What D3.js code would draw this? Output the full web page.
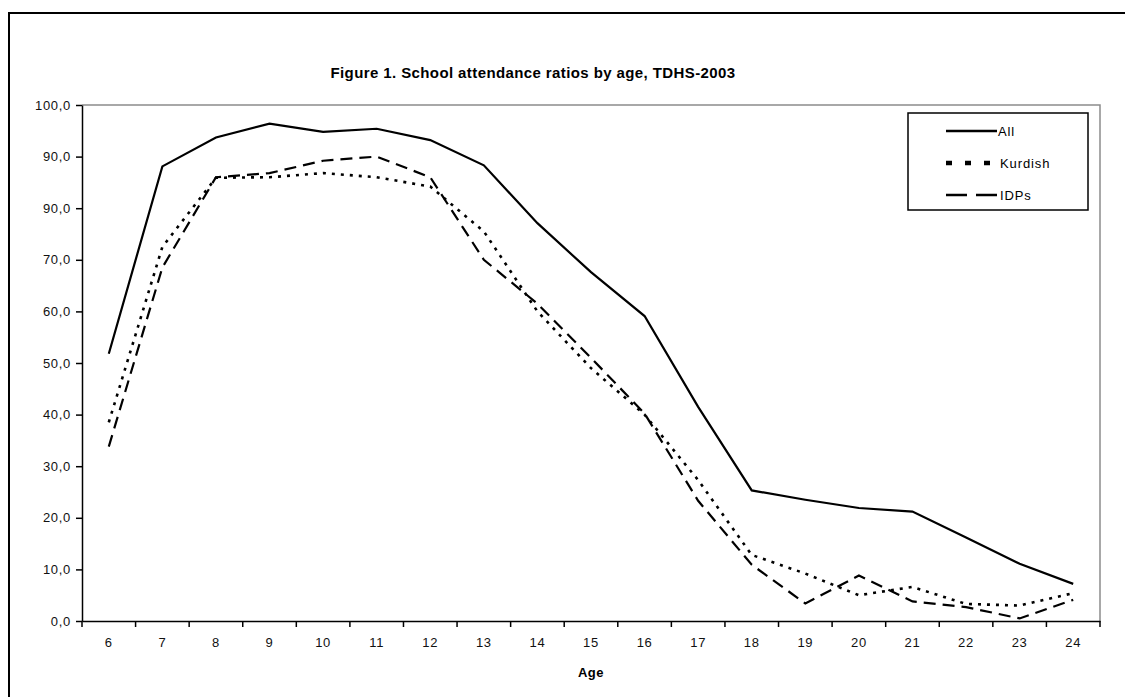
<!DOCTYPE html>
<html>
<head>
<meta charset="utf-8">
<script src="https://cdn.jsdelivr.net/npm/d3@7.9.0/dist/d3.min.js"></script>
<style>
  html, body { margin: 0; padding: 0; background: #fff; }
  svg { display: block; font-family: "Liberation Sans", Arial, sans-serif; }
</style>
</head>
<body>
<svg id="chart" width="1125" height="697"></svg>
<script>
const ages = [6, 7, 8, 9, 10, 11, 12, 13, 14, 15, 16, 17, 18, 19, 20, 21, 22, 23, 24];
const allValues = [51.8, 88.1, 93.7, 96.4, 94.8, 95.4, 93.2, 88.3, 77.1, 67.6, 59.1, 41.5, 25.3, 23.5, 21.9, 21.2, 16.2, 11.1, 7.2];
const kurdishValues = [38.5, 72.5, 85.9, 86.0, 86.8, 86.0, 84.2, 75.5, 60.0, 49.0, 40.0, 27.3, 12.8, 9.2, 5.0, 6.6, 3.3, 3.0, 5.4];
const idpValues = [33.8, 68.5, 86.0, 86.8, 89.2, 90.0, 86.0, 70.0, 61.5, 51.0, 40.2, 23.3, 10.9, 3.4, 8.8, 3.8, 2.7, 0.5, 4.1];
const yTicks = [0, 10, 20, 30, 40, 50, 60, 70, 80, 90, 100];
const yTickLabels = ["0,0", "10,0", "20,0", "30,0", "40,0", "50,0", "60,0", "70,0", "90,0", "90,0", "100,0"];
const seriesNames = ["All", "Kurdish", "IDPs"];

const series = [
  { name: seriesNames[0], values: allValues, dash: null, width: 2.2 },
  { name: seriesNames[1], values: kurdishValues, dash: "3,6", width: 2.6 },
  { name: seriesNames[2], values: idpValues, dash: "12,7", width: 2.2 }
];

const svg = d3.select('#chart');
const plot = { left: 82, right: 1100, top: 105, bottom: 621 };

// outer frame
svg.append('rect')
  .attr('x', 9).attr('y', 13)
  .attr('width', 1130).attr('height', 700)
  .attr('fill', 'none').attr('stroke', '#000').attr('stroke-width', 2);

const x = d3.scaleBand().domain(ages).range([plot.left, plot.right]).padding(0);
const y = d3.scaleLinear().domain([0, 100]).range([plot.bottom, plot.top]);
const cx = d => x(d) + x.bandwidth() / 2;

// plot area border (grey top and right)
svg.append('path')
  .attr('d', `M${plot.left},${plot.top}H${plot.right}V${plot.bottom}`)
  .attr('fill', 'none').attr('stroke', '#8c8c8c').attr('stroke-width', 1.5);

// title
svg.append('text')
  .attr('x', 533).attr('y', 78)
  .attr('text-anchor', 'middle')
  .style('font-size', '15px').style('font-weight', 'bold')
  .style('letter-spacing', '0.4px')
  .text('Figure 1. School attendance ratios by age, TDHS-2003');

// y axis
const yAxis = d3.axisLeft(y)
  .tickValues(yTicks)
  .tickFormat((d, i) => yTickLabels[i])
  .tickSize(6).tickSizeOuter(0).tickPadding(5);

const gy = svg.append('g')
  .attr('transform', `translate(${plot.left},0)`)
  .call(yAxis);
gy.selectAll('path, line').attr('stroke', '#000').attr('stroke-width', 1.5);
gy.selectAll('text').style('font-size', '13px').style('letter-spacing', '0.7px').attr('fill', '#111');

// x axis: labels centred in categories, ticks on category edges
const xAxis = d3.axisBottom(x).tickSize(0).tickSizeOuter(0).tickPadding(17);
const gx = svg.append('g')
  .attr('transform', `translate(0,${plot.bottom})`)
  .call(xAxis);
gx.select('.domain').attr('stroke', '#000').attr('stroke-width', 1.5);
gx.selectAll('text').style('font-size', '13px').style('letter-spacing', '0.7px').attr('fill', '#111');

gx.selectAll('.edge')
  .data(ages.map(d => x(d)).concat([plot.right]))
  .join('line')
  .attr('class', 'edge')
  .attr('x1', d => d).attr('x2', d => d)
  .attr('y1', 0).attr('y2', 6)
  .attr('stroke', '#000').attr('stroke-width', 1.5);

svg.append('text')
  .attr('x', x(15) + x.bandwidth() / 2).attr('y', 677)
  .attr('text-anchor', 'middle')
  .style('font-size', '13px').style('font-weight', 'bold')
  .style('letter-spacing', '0.5px')
  .text('Age');

// lines
const line = d3.line()
  .x((d, i) => cx(ages[i]))
  .y(d => y(d));

svg.append('g')
  .selectAll('path')
  .data(series)
  .join('path')
  .attr('d', d => line(d.values))
  .attr('fill', 'none')
  .attr('stroke', '#000')
  .attr('stroke-width', d => d.width)
  .attr('stroke-dasharray', d => d.dash);

// legend
const legend = svg.append('g');
legend.append('rect')
  .attr('x', 908).attr('y', 113)
  .attr('width', 180).attr('height', 97)
  .attr('fill', '#fff').attr('stroke', '#000').attr('stroke-width', 1.5);

const legendRows = legend.selectAll('g.row')
  .data(series)
  .join('g')
  .attr('class', 'row')
  .attr('transform', (d, i) => `translate(946,${131 + i * 32})`);

legendRows.append('line')
  .attr('x1', 0).attr('x2', d => d.name === 'Kurdish' ? 48 : 51)
  .attr('stroke', '#000')
  .attr('stroke-width', (d, i) => i === 1 ? 4.5 : 2.6)
  .attr('stroke-dasharray', (d, i) => i === 0 ? null : (i === 1 ? '6,13' : '21,9'));

legendRows.append('text')
  .attr('x', d => d.name === 'All' ? 52 : 54)
  .attr('y', 4.5)
  .style('font-size', '13px')
  .style('letter-spacing', '0.9px')
  .text(d => d.name);
</script>
</body>
</html>
